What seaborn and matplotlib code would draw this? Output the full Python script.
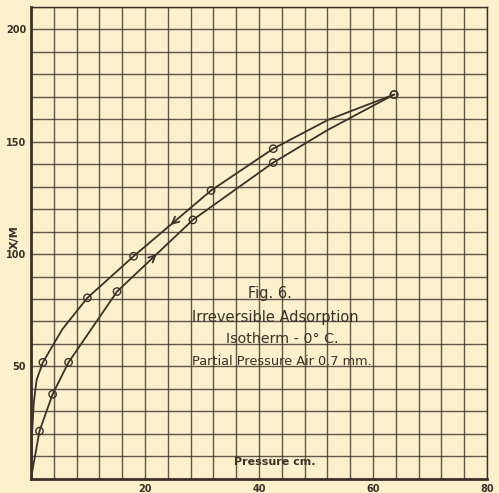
#!/usr/bin/env python3
# plot.py - Fig. 6, irreversible adsorption isotherm at 0 C

import numpy as np
import pandas as pd
import matplotlib
matplotlib.use('Agg')
import matplotlib.pyplot as plt
import seaborn as sns

# Datos leidos de la figura
# rama de desorcion (curva superior, flechas hacia abajo)
# los puntos no medidos siguen el trazo de la curva dibujada
desorb_p = [0.0, 0.15, 0.5, 1.0, 2.1, 5.5, 9.9, 18.0, 31.6, 42.5, 52.1, 63.7]
desorb_xm = [0.0, 18.0, 34.0, 44.0, 51.8, 66.5, 80.5, 99.0, 128.3, 146.9, 159.7, 171.0]
desorb_measured = [False, False, False, False, True, False, True, True, True, True, False, True]

# rama de adsorcion (curva inferior, flechas hacia arriba)
adsorb_p = [0.0, 1.5, 3.8, 6.6, 15.1, 28.4, 42.5, 52.1, 63.7]
adsorb_xm = [0.0, 21.2, 37.6, 51.8, 83.3, 115.2, 140.7, 155.3, 171.0]
adsorb_measured = [False, True, True, True, True, True, True, False, True]

x_ticks = [20, 40, 60, 80]
y_ticks = [50, 100, 150, 200]

title_lines = ['Fig. 6.',
               'Irreversible Adsorption',
               'Isotherm - 0° C.',
               'Partial Pressure Air 0.7 mm.']

paper = '#f8f1cc'
ink = '#3b3127'

df_des = pd.DataFrame({'p': desorb_p, 'xm': desorb_xm, 'measured': desorb_measured})
df_ads = pd.DataFrame({'p': adsorb_p, 'xm': adsorb_xm, 'measured': adsorb_measured})

sns.set_style('white')
plt.rcParams['font.family'] = ['DejaVu Sans']

fig = plt.figure(figsize=(4.99, 4.93), dpi=100)
fig.patch.set_facecolor(paper)
ax = fig.add_axes([0.062, 0.029, 0.914, 0.957])
ax.set_facecolor(paper)

for df in (df_des, df_ads):
    sns.lineplot(data=df, x='p', y='xm', ax=ax, color=ink, linewidth=1.3,
                 sort=False, estimator=None, zorder=3)
    sns.scatterplot(data=df[df['measured']], x='p', y='xm', ax=ax, s=28,
                    facecolor='none', edgecolor=ink, linewidth=1.0, zorder=4)

# flechas de direccion sobre cada rama
def arrow_on(df, i, reverse):
    a = df.iloc[i]
    b = df.iloc[i + 1]
    mx, my = (a['p'] + b['p']) / 2, (a['xm'] + b['xm']) / 2
    dx, dy = (b['p'] - a['p']) * 0.05, (b['xm'] - a['xm']) * 0.05
    if reverse:
        dx, dy = -dx, -dy
    ax.annotate('', xy=(mx + dx, my + dy), xytext=(mx - dx, my - dy),
                arrowprops=dict(arrowstyle='->', color=ink, lw=1.3,
                                mutation_scale=12), zorder=5)

arrow_on(df_des, 7, True)
arrow_on(df_ads, 4, False)

ax.set_xlim(0, 80)
ax.set_ylim(0, 210)
ax.set_xticks(x_ticks)
ax.set_yticks(y_ticks)
ax.set_xticks(np.arange(0, 81, 4), minor=True)
ax.set_yticks(np.arange(0, 211, 10), minor=True)
ax.grid(which='both', color=ink, linewidth=1.0, alpha=0.8)
ax.tick_params(which='minor', length=0)
ax.tick_params(which='major', length=3, width=1, color=ink, labelcolor=ink,
               labelsize=7, pad=0.5)
for lab in ax.get_xticklabels() + ax.get_yticklabels():
    lab.set_fontweight('bold')
ax.set_xlabel('')
ax.set_ylabel('')
for side in ('left', 'bottom'):
    ax.spines[side].set_color(ink)
    ax.spines[side].set_linewidth(2)
for side in ('top', 'right'):
    ax.spines[side].set_color(ink)
    ax.spines[side].set_linewidth(1)

# textos a mano
fig.text(0.03, 0.52, 'X/M', rotation=90, ha='center', va='center',
         fontsize=8, fontweight='bold', color=ink)
ax.text(42.7, 5.2, 'Pressure cm.', ha='center', va='bottom', fontsize=8,
        fontweight='bold', color=ink)
ys = [80.5, 69.8, 60.5, 50.5]
xs = [42.0, 42.9, 44.0, 44.0]
sizes = [10.5, 10.5, 10.3, 9.3]
for t, xx, yy, fs in zip(title_lines, xs, ys, sizes):
    ax.text(xx, yy, t, ha='center', va='baseline', fontsize=fs, color=ink)

fig.savefig('out.png', dpi=100, facecolor=paper)
